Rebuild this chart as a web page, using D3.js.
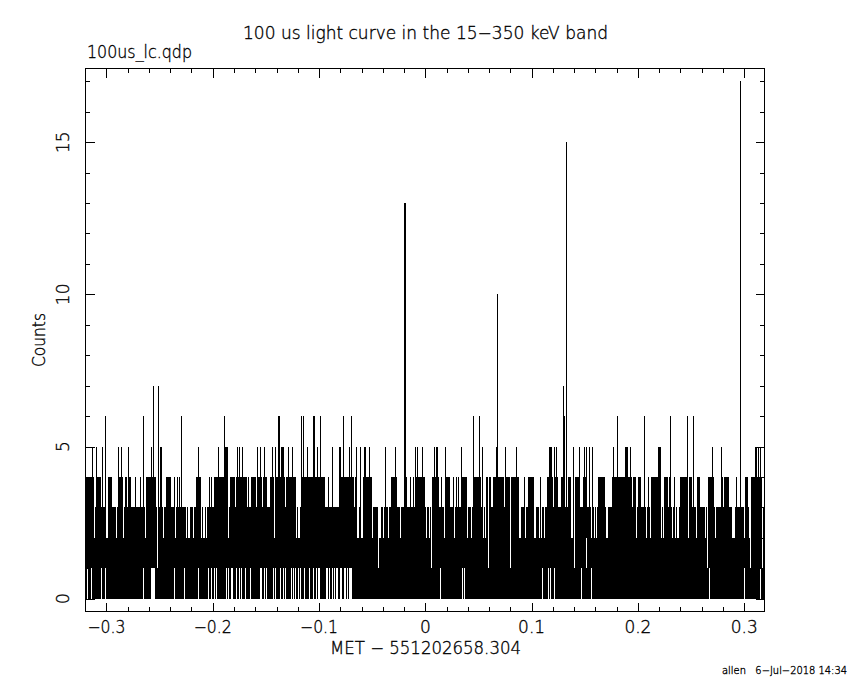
<!DOCTYPE html>
<html>
<head>
<meta charset="utf-8">
<script src="https://cdn.jsdelivr.net/npm/d3@7"></script>
<style>
  html, body { margin: 0; padding: 0; background: #fff; }
  svg { display: block; }
  text { font-family: "DejaVu Sans ExtraLight", "DejaVu Sans", "Liberation Sans", sans-serif; font-weight: 200; fill: #000; stroke: #000; stroke-width: 0.35px; }
</style>
</head>
<body>
<svg id="chart" width="850" height="680"></svg>
<script>
// ---------------- DATA ----------------
const titleText = "100 us light curve in the 15\u2212350 keV band";
const fileText = "100us_lc.qdp";
const xLabelText = "MET \u2212 551202658.304";
const yLabelText = "Counts";
const footText = "allen   6\u2212Jul\u22122018 14:34";

const xDomain = [-0.3197, 0.3191];
const yDomain = [-0.42, 17.42];
const xMajor = [-0.3, -0.2, -0.1, 0, 0.1, 0.2, 0.3];
const xMajorLabels = ["\u22120.3", "\u22120.2", "\u22120.1", "0", "0.1", "0.2", "0.3"];
const yMajor = [0, 5, 10, 15];
const yMajorLabels = ["0", "5", "10", "15"];

// time span of the 100 us bins and the dense count band (0..3) they fill
const binSpan = [-0.3195, 0.3190];
const bandCounts = [0, 3];

// isolated peaks above the band: time (s) and counts
const spikeT = [-0.3129,-0.3098,-0.3039,-0.3007,-0.2888,-0.2856,-0.2794,-0.2653,-0.2580,-0.2559,-0.2512,-0.2493,-0.2484,-0.2292,-0.2135,-0.1947,-0.1891,-0.1881,-0.1868,-0.1859,-0.1769,-0.1750,-0.1722,-0.1580,-0.1552,-0.1517,-0.1439,-0.1414,-0.1383,-0.1370,-0.1357,-0.1345,-0.1336,-0.1289,-0.1251,-0.1169,-0.1148,-0.1113,-0.1054,-0.1040,-0.1016,-0.0984,-0.0875,-0.0809,-0.0796,-0.0771,-0.0715,-0.0696,-0.0652,-0.0611,-0.0574,-0.0564,-0.0527,-0.0370,-0.0276,-0.0196,-0.0186,-0.0094,-0.0069,-0.0031,0.0091,0.0103,0.0117,0.0192,0.0336,0.0452,0.0508,0.0536,0.0665,0.0677,0.0759,0.0860,0.1167,0.1178,0.1189,0.1220,0.1234,0.1298,0.1311,0.1326,0.1390,0.1449,0.1496,0.1512,0.1543,0.1575,0.1775,0.1806,0.1881,0.1891,0.1900,0.1926,0.2060,0.2192,0.2201,0.2211,0.2302,0.2465,0.2521,0.2700,0.2782,0.2963,0.3111,0.3120,0.3130,0.3139,0.3149];
const spikeC = [5,5,5,6,5,5,5,6,5,7,7,5,5,6,5,5,6,5,5,5,5,5,5,5,5,5,5,5,6,6,5,5,5,5,5,6,6,5,6,6,5,6,5,5,5,6,5,6,5,5,5,5,5,5,5,13,13,5,5,5,5,5,5,5,5,6,6,5,5,10,5,5,5,5,5,5,5,7,6,15,5,5,5,5,5,5,5,6,5,5,5,5,6,5,5,5,6,6,6,5,5,17,5,5,5,5,5];

// runs of bins reaching 4 counts: start / end time (s)
const blockLevel = 4;
const blockT0 = [-0.3185,-0.3086,-0.2982,-0.2879,-0.2825,-0.2785,-0.2722,-0.2684,-0.2621,-0.2433,-0.2364,-0.2336,-0.2308,-0.2151,-0.2035,-0.2007,-0.1985,-0.1972,-0.1922,-0.1837,-0.1781,-0.1665,-0.1633,-0.1574,-0.1524,-0.1461,-0.1414,-0.1310,-0.1263,-0.1169,-0.1085,-0.1038,-0.0913,-0.0812,-0.0739,-0.0661,-0.0583,-0.0316,-0.0175,-0.0144,-0.0113,-0.0087,-0.0034,-0.0003,0.0072,0.0148,0.0192,0.0232,0.0263,0.0295,0.0310,0.0336,0.0452,0.0580,0.0600,0.0640,0.0712,0.0759,0.0813,0.0929,0.0969,0.1079,0.1148,0.1220,0.1279,0.1345,0.1411,0.1486,0.1627,0.1669,0.1763,0.1803,0.1848,0.1919,0.1957,0.2007,0.2098,0.2130,0.2248,0.2293,0.2342,0.2405,0.2431,0.2484,0.2563,0.2665,0.2782,0.2819,0.2929,0.3014,0.3071,0.3111];
const blockT1 = [-0.3123,-0.3054,-0.2950,-0.2847,-0.2809,-0.2771,-0.2722,-0.2684,-0.2543,-0.2395,-0.2364,-0.2336,-0.2308,-0.2119,-0.2035,-0.2007,-0.1985,-0.1931,-0.1859,-0.1797,-0.1680,-0.1665,-0.1593,-0.1539,-0.1492,-0.1433,-0.1329,-0.1273,-0.1226,-0.1101,-0.1054,-0.0953,-0.0913,-0.0755,-0.0677,-0.0646,-0.0511,-0.0269,-0.0175,-0.0144,-0.0113,-0.0050,-0.0019,-0.0003,0.0122,0.0148,0.0216,0.0232,0.0263,0.0295,0.0310,0.0389,0.0515,0.0587,0.0609,0.0703,0.0740,0.0795,0.0872,0.0929,0.1016,0.1088,0.1199,0.1242,0.1298,0.1368,0.1455,0.1512,0.1659,0.1690,0.1785,0.1832,0.1910,0.1942,0.1973,0.2020,0.2098,0.2208,0.2274,0.2311,0.2342,0.2418,0.2459,0.2506,0.2584,0.2707,0.2794,0.2850,0.2929,0.3033,0.3102,0.3160];

// places where the band only reaches 2 counts
const notchT = [-0.3110,-0.2997,-0.2990,-0.2903,-0.2841,-0.2637,-0.2463,-0.2435,-0.2346,-0.2245,-0.2230,-0.2220,-0.2182,-0.2110,-0.2091,-0.2073,-0.2054,-0.1850,-0.1423,-0.1210,-0.1197,-0.1188,-0.0945,-0.0635,-0.0625,-0.0600,-0.0590,-0.0503,-0.0493,-0.0442,-0.0433,-0.0420,-0.0389,-0.0342,-0.0231,0.0013,0.0035,0.0179,0.0267,0.0279,0.0395,0.0436,0.0546,0.0562,0.0750,0.0884,0.0898,0.0938,0.1025,0.1035,0.1070,0.1095,0.1117,0.1378,0.1385,0.1562,0.1596,0.1614,0.1703,0.1716,0.1933,0.1989,0.2083,0.2114,0.2177,0.2224,0.2239,0.2280,0.2324,0.2356,0.2371,0.2380,0.2397,0.2475,0.2553,0.2632,0.2710,0.2727,0.2888,0.2900,0.2913,0.3001,0.3048];
// places where the band only reaches 1 count
const lowT = [-0.2521,-0.0436,0.0054,0.0593,0.0803,0.1402,0.1521,0.2653,0.3061,0.3170];
// places where no bin drops to 0 counts (minimum 1)
const gapT = [-0.3180,-0.3138,-0.3044,-0.3013,-0.2653,-0.2574,-0.2564,-0.2555,-0.2546,-0.2355,-0.2261,-0.2138,-0.2041,-0.2016,-0.1985,-0.1969,-0.1875,-0.1853,-0.1828,-0.1812,-0.1774,-0.1745,-0.1734,-0.1690,-0.1649,-0.1555,-0.1539,-0.1515,-0.1492,-0.1433,-0.1405,-0.1367,-0.1336,-0.1320,-0.1257,-0.1238,-0.1226,-0.1195,-0.1176,-0.1132,-0.1085,-0.1054,-0.1022,-0.1007,-0.0991,-0.0928,-0.0922,-0.0906,-0.0871,-0.0859,-0.0840,-0.0828,-0.0796,-0.0786,-0.0762,-0.0753,-0.0730,-0.0715,-0.0702,-0.0692,0.0146,0.0348,0.0373,0.1107,0.1157,0.1176,0.1220,0.1468,0.1568,0.2676,0.3001,0.3158];

// ---------------- DRAWING ----------------
const L = 85.5, R = 764.5, T = 68.5, B = 611.5;
const svg = d3.select("#chart");
const x = d3.scaleLinear().domain(xDomain).range([L, R]);
const y = d3.scaleLinear().domain(yDomain).range([B, T]);

const plot = svg.append("g").attr("shape-rendering", "crispEdges");
const col = t => Math.floor(x(t));

// dense band
plot.append("rect")
  .attr("x", col(binSpan[0])).attr("width", Math.ceil(x(binSpan[1])) - col(binSpan[0]))
  .attr("y", y(bandCounts[1])).attr("height", y(bandCounts[0]) - y(bandCounts[1]))
  .attr("fill", "#000");

function whiteCols(ts, c0, c1) {
  plot.append("g").selectAll("rect").data(ts).join("rect")
    .attr("x", d => col(d)).attr("width", 1)
    .attr("y", y(c1)).attr("height", y(c0) - y(c1))
    .attr("fill", "#fff");
}
whiteCols(notchT, 2, 3);
whiteCols(lowT, 1, 3);
whiteCols(gapT, 0, 1);

// runs at 4 counts
plot.append("g").selectAll("rect").data(d3.range(blockT0.length)).join("rect")
  .attr("x", i => col(blockT0[i]))
  .attr("width", i => col(blockT1[i]) + 1 - col(blockT0[i]))
  .attr("y", y(blockLevel)).attr("height", y(2) - y(blockLevel))
  .attr("fill", "#000");

// peaks
plot.append("g").selectAll("rect").data(d3.range(spikeT.length)).join("rect")
  .attr("x", i => col(spikeT[i])).attr("width", 1)
  .attr("y", i => y(spikeC[i])).attr("height", i => y(2) - y(spikeC[i]))
  .attr("fill", "#000");

// frame
const axes = svg.append("g").attr("shape-rendering", "crispEdges").attr("stroke", "#000").attr("stroke-width", 1);
axes.append("rect").attr("x", L).attr("y", T).attr("width", R - L).attr("height", B - T).attr("fill", "none");

// x ticks (bottom and top, inward)
const xMinor = d3.range(-15, 16).map(k => k * 0.02).filter(v => v >= xDomain[0] && v <= xDomain[1]);
xMinor.forEach(v => {
  const isMajor = xMajor.some(m => Math.abs(m - v) < 1e-9);
  const len = isMajor ? 9 : 4.5;
  const px = Math.round(x(v)) + 0.5;
  axes.append("line").attr("x1", px).attr("x2", px).attr("y1", B).attr("y2", B - len);
  axes.append("line").attr("x1", px).attr("x2", px).attr("y1", T).attr("y2", T + len);
});
// y ticks (left and right, inward)
d3.range(0, 18).forEach(v => {
  const isMajor = yMajor.includes(v);
  const len = isMajor ? 9 : 4.5;
  const py = Math.round(y(v)) + 0.5;
  axes.append("line").attr("x1", L).attr("x2", L + len).attr("y1", py).attr("y2", py);
  axes.append("line").attr("x1", R).attr("x2", R - len).attr("y1", py).attr("y2", py);
});

// labels
const fs = 17;
svg.append("text").attr("x", 425.5).attr("y", 39).attr("text-anchor", "middle")
  .attr("font-size", fs).attr("textLength", 365).attr("lengthAdjust", "spacingAndGlyphs").text(titleText);
svg.append("text").attr("x", 87).attr("y", 58).attr("font-size", fs)
  .attr("textLength", 105).attr("lengthAdjust", "spacingAndGlyphs").text(fileText);

svg.append("g").selectAll("text").data(xMajor).join("text")
  .attr("x", d => x(d)).attr("y", 633).attr("text-anchor", "middle").attr("font-size", fs)
  .each(function(d, i) {
    const s = d3.select(this).text(xMajorLabels[i]);
    if (d < 0) s.attr("textLength", 38).attr("lengthAdjust", "spacingAndGlyphs");
  });

svg.append("text").attr("x", 330).attr("y", 654).attr("font-size", fs)
  .attr("textLength", 191).attr("lengthAdjust", "spacingAndGlyphs").text(xLabelText);

svg.append("g").selectAll("text").data(yMajor).join("text")
  .attr("transform", d => `translate(69,${y(d)}) rotate(-90)`)
  .attr("text-anchor", "middle").attr("font-size", fs)
  .text((d, i) => yMajorLabels[i]);

svg.append("text").attr("transform", "translate(44.5,340) rotate(-90)")
  .attr("text-anchor", "middle").attr("font-size", fs)
  .attr("textLength", 54).attr("lengthAdjust", "spacingAndGlyphs").text(yLabelText);

svg.append("text").attr("x", 722).attr("y", 674).attr("font-size", 10)
  .style("white-space", "pre")
  .attr("textLength", 125).attr("lengthAdjust", "spacingAndGlyphs").text(footText);
</script>
</body>
</html>
